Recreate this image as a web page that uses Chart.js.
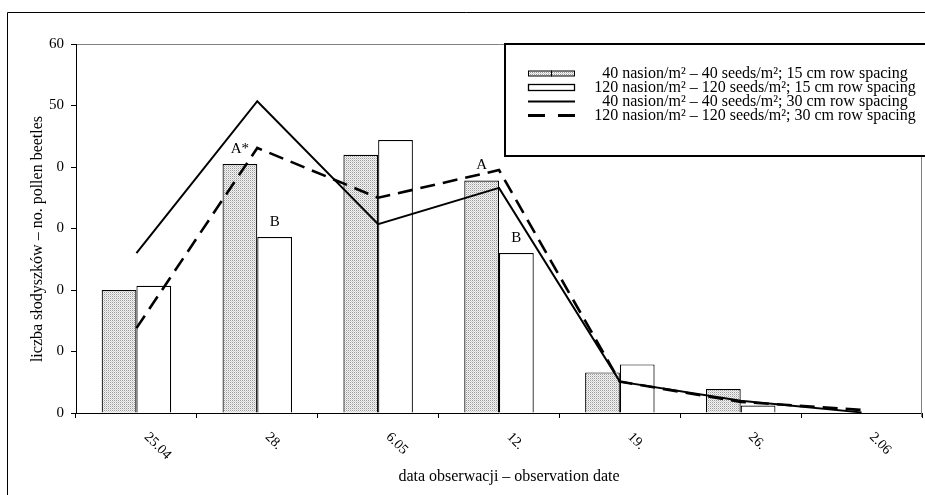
<!DOCTYPE html>
<html><head><meta charset="utf-8">
<script src="https://cdn.jsdelivr.net/npm/chart.js@4.4.1/dist/chart.umd.min.js"></script>
<style>html,body{margin:0;padding:0;background:#fff}#wrap{width:925px;height:495px;position:relative}</style>
</head><body><div id="wrap"><canvas id="c" width="925" height="495"></canvas></div>
<script>
// ---- data ----
const categories = ['25.04', '28.', '6.05', '12.', '19.', '26.', '2.06'];
const yTickLabels = ['0', '0', '0', '0', '0', '50', '60']; // for 0,10,...,60 as printed
const seriesLabels = [
  '40 nasion/m² – 40 seeds/m²; 15 cm row spacing',
  '120 nasion/m² – 120 seeds/m²; 15 cm row spacing',
  '40 nasion/m² – 40 seeds/m²; 30 cm row spacing',
  '120 nasion/m² – 120 seeds/m²; 30 cm row spacing'
];
const bars40_15 = [20.0, 40.5, 42.0, 37.8, 6.6, 3.9, 0];
const bars120_15 = [20.7, 28.6, 44.4, 26.0, 7.9, 1.2, 0];
const line40_30 = [26.0, 50.7, 30.7, 36.6, 5.1, 2.0, 0.1];
const line120_30 = [13.8, 43.1, 35.0, 39.5, 5.1, 1.8, 0.5];
const barLetterSeries = [0, 1, 0, 1];
const barLetterIndex = [1, 1, 3, 3];
const barLetterText = ['A*', 'B', 'A', 'B'];
const xTitle = 'data obserwacji – observation date';
const yTitle = 'liczba słodyszków – no. pollen beetles';

// ---- styles ----
const SERIF = '"Liberation Serif", "Times New Roman", serif';
Chart.defaults.font.family = SERIF;
Chart.defaults.color = '#000';

function makeStipple(ctx) {
  const p = document.createElement('canvas');
  p.width = 2; p.height = 2;
  const g = p.getContext('2d');
  g.fillStyle = '#f4f4f4'; g.fillRect(0, 0, 2, 2);
  g.fillStyle = '#9a9a9a'; g.fillRect(0, 0, 1, 1);
  g.fillStyle = '#cfcfcf'; g.fillRect(1, 1, 1, 1);
  return ctx.createPattern(p, 'repeat');
}

const canvas = document.getElementById('c');
const ctx0 = canvas.getContext('2d');
const stipple = makeStipple(ctx0);

const decor = {
  id: 'decor',
  afterDraw(chart) {
    const ctx = chart.ctx;
    const a = chart.chartArea;
    const xs = chart.scales.x;
    ctx.save();
    // outer frame (left and top edges visible)
    ctx.strokeStyle = '#000'; ctx.lineWidth = 1;
    ctx.beginPath();
    ctx.moveTo(7.5, 495); ctx.lineTo(7.5, 12.5); ctx.lineTo(925, 12.5);
    ctx.stroke();
    // plot right border
    ctx.strokeStyle = '#808080';
    ctx.beginPath();
    ctx.moveTo(Math.round(a.right) - 0.5, a.top); ctx.lineTo(Math.round(a.right) - 0.5, a.bottom + 4);
    ctx.stroke();
    // x tick labels, rotated clockwise
    ctx.fillStyle = '#000';
    ctx.font = '14px ' + SERIF;
    ctx.textAlign = 'left'; ctx.textBaseline = 'middle';
    categories.forEach((c, i) => {
      const x = xs.getPixelForValue(i);
      ctx.save();
      ctx.translate(x + 10, a.bottom + 22);
      ctx.rotate(Math.PI / 4);
      ctx.fillText(c, 0, 0);
      ctx.restore();
    });
    // axis titles
    ctx.font = '16px ' + SERIF;
    ctx.textAlign = 'center'; ctx.textBaseline = 'middle';
    ctx.fillText(xTitle, 509, 477);
    ctx.save();
    ctx.translate(38, 239);
    ctx.rotate(-Math.PI / 2);
    ctx.fillText(yTitle, 0, 0);
    ctx.restore();
    // letters above bars
    ctx.font = '15px ' + SERIF;
    barLetterText.forEach((t, k) => {
      const el = chart.getDatasetMeta(barLetterSeries[k]).data[barLetterIndex[k]];
      ctx.fillText(t, el.x, el.y - 15);
    });
    // legend
    ctx.fillStyle = '#fff';
    ctx.fillRect(505, 44, 425, 112);
    ctx.strokeStyle = '#000'; ctx.lineWidth = 2;
    ctx.strokeRect(505, 44, 430, 112);
    const rows = [73.5, 87.5, 101.5, 115.5];
    // symbol 0: stippled double box
    ctx.lineWidth = 1;
    ctx.fillStyle = stipple;
    ctx.fillRect(528, rows[0] - 2.5, 47, 5);
    ctx.strokeRect(528.5, rows[0] - 2.5, 23, 5);
    ctx.strokeRect(551.5, rows[0] - 2.5, 23, 5);
    // symbol 1: white box
    ctx.fillStyle = '#fff';
    ctx.lineWidth = 1.3;
    ctx.fillRect(528, rows[1] - 3, 47, 6);
    ctx.strokeRect(528.5, rows[1] - 3, 46, 6);
    // symbol 2: solid line
    ctx.lineWidth = 2;
    ctx.beginPath(); ctx.moveTo(528, rows[2]); ctx.lineTo(575, rows[2]); ctx.stroke();
    // symbol 3: dashed line
    ctx.lineWidth = 3;
    ctx.setLineDash([17, 13]);
    ctx.beginPath(); ctx.moveTo(528, rows[3]); ctx.lineTo(575, rows[3]); ctx.stroke();
    ctx.setLineDash([]);
    ctx.fillStyle = '#000';
    ctx.font = '16px ' + SERIF;
    ctx.textAlign = 'center';
    seriesLabels.forEach((s, i) => ctx.fillText(s, 755, rows[i]));
    ctx.restore();
  }
};

new Chart(canvas, {
  type: 'bar',
  data: {
    labels: categories,
    datasets: [
      { label: seriesLabels[0], data: bars40_15, backgroundColor: stipple, borderColor: '#000', borderWidth: 1.2,
        categoryPercentage: 0.575, barPercentage: 1, order: 3 },
      { label: seriesLabels[1], data: bars120_15, backgroundColor: '#fff', borderColor: '#000', borderWidth: 1.2,
        categoryPercentage: 0.575, barPercentage: 1, order: 3 },
      { type: 'line', label: seriesLabels[2], data: line40_30, borderColor: '#000', borderWidth: 2,
        pointRadius: 0, tension: 0, fill: false, order: 2 },
      { type: 'line', label: seriesLabels[3], data: line120_30, borderColor: '#000', borderWidth: 2.6,
        borderDash: [15, 8], pointRadius: 0, tension: 0, fill: false, order: 1 }
    ]
  },
  options: {
    responsive: false,
    animation: false,
    devicePixelRatio: 1,
    layout: { padding: { left: 0, top: 44, right: 3, bottom: 0 } },
    plugins: { legend: { display: false }, tooltip: { enabled: false } },
    scales: {
      x: {
        offset: true,
        grid: { offset: true, color: 'transparent', tickColor: '#000', tickLength: 5 },
        border: { color: '#000', width: 1 },
        ticks: { display: false },
        afterFit(s) { s.height = 82; }
      },
      y: {
        min: 0, max: 60,
        ticks: { stepSize: 10, color: '#000', padding: 7, font: { family: SERIF, size: 15 },
          callback: (v, i) => yTickLabels[i] },
        grid: { color: (c) => (c.tick && c.tick.value === 60 ? '#808080' : 'transparent'), tickColor: '#000', tickLength: 5 },
        border: { color: '#000', width: 1 },
        afterFit(s) { s.width = 76; }
      }
    }
  },
  plugins: [decor]
});
</script>
</body></html>
